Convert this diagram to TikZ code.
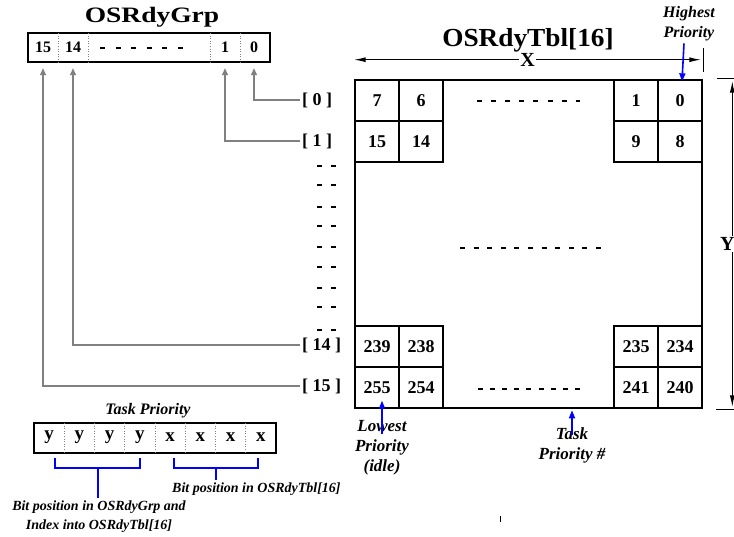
\documentclass[tikz,border=0pt]{standalone}
\usepackage{fontspec}
\setmainfont{Liberation Serif}
\usetikzlibrary{arrows.meta}
\newcommand\fpx[1]{\fontsize{#1}{#1}\selectfont}
\begin{document}
\begin{tikzpicture}[x=1pt,y=-1pt,
  grpbox/.style={draw, line width=1.4pt, inner sep=0pt},
  sepline/.style={draw=gray, dotted, line width=0.6pt},
  bitnum/.style={font=\bfseries\fpx{16}, inner sep=0pt, minimum width=30pt, minimum height=29pt},
  tpbit/.style={font=\bfseries\fpx{19}, inner sep=0pt, minimum width=30pt, minimum height=30pt},
  cell/.style={draw, line width=1.3pt, font=\bfseries\fpx{18}, minimum width=44pt, minimum height=41pt, inner sep=0pt},
  idx/.style={font=\bfseries\fpx{18}, anchor=west, inner sep=2pt},
  wire/.style={draw=gray, line width=1.3pt, -{Triangle[length=7pt,width=6pt]}},
  bluearr/.style={draw=blue, line width=1.6pt, -{Triangle[length=8pt,width=6pt]}},
  dimarr/.style={line width=1.3pt, {Latex[length=12pt,width=5pt]}-{Latex[length=12pt,width=5pt]}},
  lbl/.style={font=\bfseries\itshape\fontsize{17}{20}\selectfont, align=center, inner sep=0pt},
  dashrow/.style={line width=1.2pt, dash pattern=on 5pt off 9pt},
]
\useasboundingbox (0,0) rectangle (734,536);

% ---------- OSRdyGrp ----------
\node[font=\bfseries\fpx{22}] (grpT) at (152,17) {\scalebox{1.25}[1]{OSRdyGrp}};
\node[grpbox, minimum width=242pt, minimum height=29pt] (grp) at (149,47.5) {};
\foreach \x in {58,88,210,240} \draw[sepline] (\x,33) -- (\x,62);
\node[bitnum] (g15) at (43,47.5) {15};
\node[bitnum] (g14) at (73,47.5) {14};
\node[bitnum] (g1) at (225,47.5) {1};
\node[bitnum] (g0) at (254,47.5) {0};
\draw[line width=1.2pt, dash pattern=on 5pt off 10.6pt] (100,48) -- (183.5,48);

% ---------- index labels and wires ----------
\node[idx] (i0) at (300,100) {[ 0 ]};
\node[idx] (i1) at (300,141) {[ 1 ]};
\node[idx] (i14) at (300,345) {[ 14 ]};
\node[idx] (i15) at (300,386) {[ 15 ]};
\draw[wire] (i0.west) -| ([yshift=-6pt]g0.south);
\draw[wire] (i1.west) -| ([yshift=-6pt]g1.south);
\draw[wire] (i14.west) -| ([yshift=-6pt]g14.south);
\draw[wire] (i15.west) -| ([yshift=-6pt]g15.south);
\foreach \y in {166,185,207,226,247,267,288,307,330}
  \draw[dashrow] (317,\y) -- (336,\y);

% ---------- OSRdyTbl ----------
\node[font=\bfseries\fpx{26}] (tblT) at (528,40) {\scalebox{1.05}[1]{OSRdyTbl[16]}};
\node[cell] (t7) at (377,100.5) {7};
\node[cell] (t6) at (421,100.5) {6};
\node[cell] (t1) at (636,100.5) {1};
\node[cell] (t0) at (680,100.5) {0};
\node[cell] (t15) at (377,141.5) {15};
\node[cell] (t14) at (421,141.5) {14};
\node[cell] (t9) at (636,141.5) {9};
\node[cell] (t8) at (680,141.5) {8};
\node[cell] (t239) at (377,346.5) {239};
\node[cell] (t238) at (421,346.5) {238};
\node[cell] (t235) at (636,346.5) {235};
\node[cell] (t234) at (680,346.5) {234};
\node[cell] (t255) at (377,387.5) {255};
\node[cell] (t254) at (421,387.5) {254};
\node[cell] (t241) at (636,387.5) {241};
\node[cell] (t240) at (680,387.5) {240};
\node[draw, line width=2.6pt, minimum width=347pt, minimum height=328pt, inner sep=0pt] (tbl) at (528.5,244) {};
\draw[line width=1.2pt, dash pattern=on 5pt off 9.1pt] (477,101) -- (580,101);
\draw[line width=1.2pt, dash pattern=on 5pt off 8.6pt] (460,248) -- (605,248);
\draw[line width=1.2pt, dash pattern=on 5pt off 7.1pt] (478,389) -- (580,389);

% X dimension
\draw[dimarr] ([yshift=19pt]tbl.north west) -- node[fill=white, font=\bfseries\fpx{20}, inner sep=1pt] (xl) {X} ([yshift=19pt, xshift=-2pt]tbl.north east);
\draw[line width=1.2pt] ([yshift=31pt]tbl.north east) -- ([yshift=7pt]tbl.north east);
% Y dimension
\draw[dimarr] ([xshift=29pt,yshift=-2pt]tbl.north east) -- node[fill=white, font=\bfseries\fpx{20}, inner sep=1pt, xshift=-5pt] (yl) {Y} ([xshift=29pt,yshift=2pt]tbl.south east);
\draw[line width=1.2pt] ([xshift=14pt]tbl.north east) -- ([xshift=34pt]tbl.north east);
\draw[line width=1.2pt] ([xshift=13pt]tbl.south east) -- ([xshift=34pt]tbl.south east);

% Highest priority
\node[lbl, font=\bfseries\itshape\fontsize{16}{20}\selectfont] (hp) at (689,24) {Highest\\Priority};
\draw[bluearr] ([xshift=-5pt,yshift=-2pt]hp.south) -- ([xshift=2pt,yshift=-2pt]t0.north);

% Lowest priority
\node[lbl] (lp) at (382,448) {Lowest\\Priority\\(idle)};
\draw[bluearr] ([yshift=-14pt]lp.north) -- ([yshift=8pt]lp.north |- t255.south);

% Task priority #
\node[lbl] (tpn) at (572,445) {Task\\Priority \#};
\draw[bluearr] ([yshift=-8pt]tpn.north) -- ([yshift=-1pt]tpn.north |- tbl.south);

% ---------- Task Priority box ----------
\node[lbl, font=\bfseries\itshape\fpx{16}] (tpT) at (148,411) {Task Priority};
\node[grpbox, minimum width=242pt, minimum height=30pt] (tpbox) at (155,438) {};
\foreach \x in {64.25,94.5,124.75,155,185.25,215.5,245.75} \draw[sepline] (\x,423) -- (\x,453);
\node[tpbit] (b7) at (49.1,437) {y};
\node[tpbit] (b6) at (79.4,437) {y};
\node[tpbit] (b5) at (109.6,437) {y};
\node[tpbit] (b4) at (139.9,437) {y};
\node[tpbit] (b3) at (170.1,437) {x};
\node[tpbit] (b2) at (200.4,437) {x};
\node[tpbit] (b1) at (230.6,437) {x};
\node[tpbit] (b0) at (260.9,437) {x};

\draw[blue, line width=2pt] (55,458) -- (55,468) -- (140,468) -- (140,458) (97.5,468) -- (97.5,498);
\draw[blue, line width=2pt] (174,458) -- (174,468) -- (258,468) -- (258,458) (216,468) -- (216,480);

\node[font=\bfseries\itshape\fpx{14}, anchor=west, inner sep=0pt] (bt) at (172,489) {Bit position in OSRdyTbl[16]};
\node[font=\bfseries\itshape\fontsize{14}{19}\selectfont, align=center, inner sep=0pt] (bg) at (99,517) {Bit position in OSRdyGrp and\\Index into OSRdyTbl[16]};

\draw[line width=0.8pt] (500,516) -- (500,522);
\end{tikzpicture}
\end{document}
